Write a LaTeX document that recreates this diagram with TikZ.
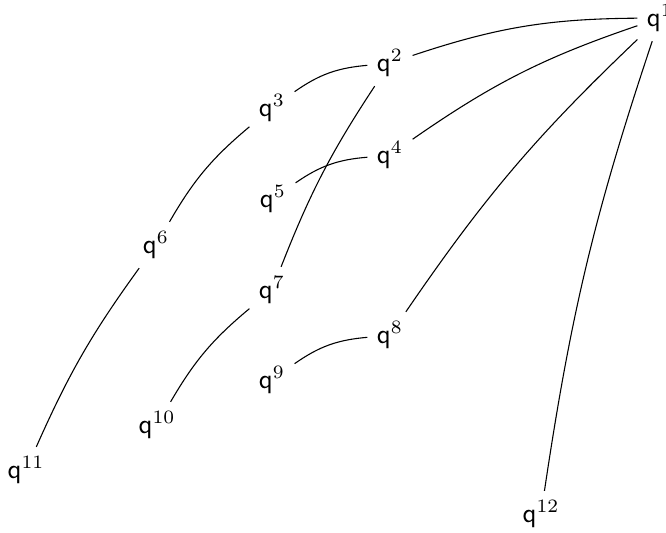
\documentclass[tikz,border=0pt]{standalone}
\begin{document}
\begin{tikzpicture}[x=0.37pt,y=-0.37pt]
    \useasboundingbox (0,0) rectangle (666,533);
    \node (q1) at (660,18) {$\mathsf{q}^{1}$};
    \node (q2) at (390,63) {$\mathsf{q}^{2}$};
    \node (q3) at (272,108) {$\mathsf{q}^{3}$};
    \node (q4) at (390,155) {$\mathsf{q}^{4}$};
    \node (q5) at (273,199) {$\mathsf{q}^{5}$};
    \node (q6) at (156,245) {$\mathsf{q}^{6}$};
    \node (q7) at (272,290) {$\mathsf{q}^{7}$};
    \node (q8) at (390,335) {$\mathsf{q}^{8}$};
    \node (q9) at (272,380) {$\mathsf{q}^{9}$};
    \node (q10) at (157,425) {$\mathsf{q}^{10}$};
    \node (q11) at (26,470) {$\mathsf{q}^{11}$};
    \node (q12) at (541,514) {$\mathsf{q}^{12}$};
    \draw (q1) to[bend right=9] (q2);
    \draw (q1) to[bend right=8] (q4);
    \draw (q1) to[bend right=6] (q8);
    \draw (q1) to[bend right=5] (q12);
    \draw (q2) to[bend right=15] (q3);
    \draw (q2) to[bend right=6] (q7);
    \draw (q3) to[bend right=10] (q6);
    \draw (q4) to[bend right=15] (q5);
    \draw (q6) to[bend right=6] (q11);
    \draw (q7) to[bend right=10] (q10);
    \draw (q8) to[bend right=15] (q9);
\end{tikzpicture}
\end{document}
